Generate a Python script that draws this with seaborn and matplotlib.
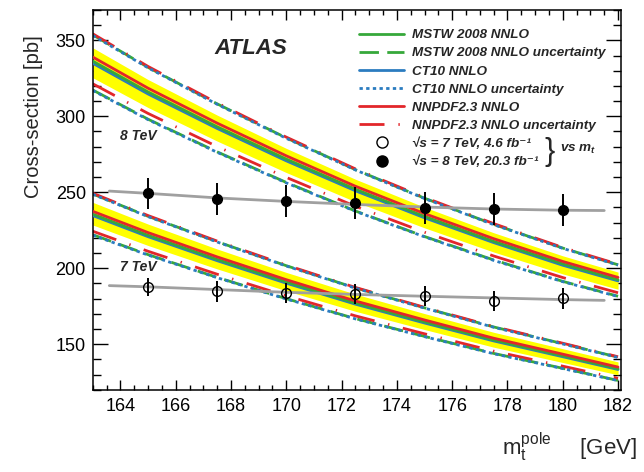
import matplotlib
matplotlib.use("Agg")
import matplotlib.pyplot as plt
import seaborn as sns
from matplotlib.lines import Line2D
from matplotlib.ticker import MultipleLocator

# ---------- DATA ----------
mass = [163, 165, 167.5, 170, 172.5, 175, 177.5, 180, 182]

# 8 TeV predictions [pb]
nnpdf_8 = [339, 318.5, 295.5, 274, 254, 236, 219.5, 204.5, 194]
mstw_8 = [336.3, 316.0, 293.1, 271.8, 252.0, 234.1, 217.7, 202.9, 192.4]
ct10_8 = [334.9, 314.7, 292.0, 270.7, 251.0, 233.2, 216.9, 202.0, 191.7]
nnpdf_8_up = [354.3, 332.8, 308.8, 286.3, 265.4, 246.6, 229.4, 213.7, 202.7]
nnpdf_8_dn = [321.4, 301.9, 280.1, 259.8, 240.8, 223.7, 208.1, 193.9, 183.9]
mstw_8_up = [353.6, 332.2, 308.2, 285.8, 264.9, 246.1, 228.9, 213.3, 202.3]
mstw_8_dn = [317.3, 298.1, 276.6, 256.5, 237.7, 220.9, 205.5, 191.4, 181.6]
ct10_8_up = [353.2, 331.9, 307.9, 285.5, 264.7, 245.9, 228.7, 213.1, 202.1]
ct10_8_dn = [317.0, 297.8, 276.3, 256.2, 237.5, 220.7, 205.2, 191.2, 181.4]
band_8_hi = [345.1, 324.2, 300.8, 278.9, 258.6, 240.2, 223.4, 208.2, 197.5]
band_8_lo = [325.4, 305.8, 283.7, 263.0, 243.8, 226.6, 210.7, 196.3, 186.2]

# 7 TeV predictions [pb]
nnpdf_7 = [237.5, 223.5, 207.5, 192.5, 178.5, 166.0, 154.0, 143.5, 135.0]
mstw_7 = [235.6, 221.7, 205.8, 191.0, 177.1, 164.7, 152.8, 142.4, 133.9]
ct10_7 = [234.7, 220.8, 205.0, 190.2, 176.4, 164.0, 152.2, 141.8, 133.4]
nnpdf_7_up = [249.4, 234.7, 217.9, 202.1, 187.4, 174.3, 161.7, 150.7, 141.8]
nnpdf_7_dn = [224.4, 211.2, 196.1, 181.9, 168.7, 156.9, 145.5, 135.6, 127.6]
mstw_7_up = [248.9, 234.2, 217.5, 201.7, 187.1, 174.0, 161.4, 150.4, 141.5]
mstw_7_dn = [222.1, 209.0, 194.0, 180.0, 166.9, 155.2, 144.0, 134.2, 126.2]
ct10_7_up = [248.7, 234.0, 217.3, 201.5, 186.9, 173.8, 161.2, 150.2, 141.3]
ct10_7_dn = [221.8, 208.7, 193.8, 179.8, 166.7, 155.0, 143.8, 134.0, 126.1]
band_7_hi = [243.4, 229.1, 212.7, 197.3, 183.0, 170.2, 157.9, 147.1, 138.4]
band_7_lo = [228.5, 215.0, 199.6, 185.2, 171.7, 159.7, 148.1, 138.0, 129.9]

# measured cross-section vs assumed m_t
pts_mass = [165, 167.5, 170, 172.5, 175, 177.5, 180]
xsec_7 = [187.5, 184.9, 183.6, 183.2, 181.6, 178.7, 180.3]
err_7 = [6.0, 7.0, 6.5, 6.5, 6.5, 6.5, 6.8]
xsec_8 = [249.3, 245.6, 244.0, 242.8, 239.5, 239.0, 238.3]
err_8 = [10.3, 10.7, 10.5, 10.5, 10.5, 10.4, 10.4]

# fitted dependence (grey lines)
fit_mass = [163.6, 165, 167.5, 170, 172.5, 175, 177.5, 180, 181.5]
fit_7 = [188.6, 187.8, 186.0, 184.2, 182.8, 181.6, 180.5, 179.4, 178.9]
fit_8 = [250.8, 249.3, 246.3, 244.0, 242.0, 240.3, 239.0, 238.2, 238.0]

# ---------- STYLE ----------
sns.set_theme(style="ticks")
plt.rcParams['font.family'] = ['Liberation Sans', 'DejaVu Sans']
plt.rcParams['mathtext.fontset'] = 'custom'
plt.rcParams['mathtext.rm'] = 'Liberation Sans'
plt.rcParams['mathtext.it'] = 'Liberation Sans:italic'
plt.rcParams['mathtext.bf'] = 'Liberation Sans:bold:italic'

GREEN = '#36a83a'
BLUE = '#2b7cc0'
RED = '#e2262a'
GREY = '#a0a0a0'
LW = 2.0

ls_mstw = (0, (7, 3))
ls_ct10 = (0, (1.2, 1.2))
ls_nnpdf = (0, (9, 5, 0.5, 5))

fig = plt.figure(figsize=(6.44, 4.72), dpi=100)
ax = fig.add_axes([0.144, 0.174, 0.820, 0.805])


def curve(y, color, ls='-', x=mass, lw=LW, z=3):
    sns.lineplot(x=x, y=y, ax=ax, color=color, linestyle=ls, linewidth=lw,
                 zorder=z, sort=False, estimator=None)


# ---------- DRAW ----------
for lo, hi in [(band_8_lo, band_8_hi), (band_7_lo, band_7_hi)]:
    ax.fill_between(mass, lo, hi, color='#ffff00', lw=0, zorder=1)

for up, dn in [(mstw_8_up, mstw_8_dn), (mstw_7_up, mstw_7_dn)]:
    curve(up, GREEN, ls_mstw, z=2)
    curve(dn, GREEN, ls_mstw, z=2)
for up, dn in [(nnpdf_8_up, nnpdf_8_dn), (nnpdf_7_up, nnpdf_7_dn)]:
    curve(up, RED, ls_nnpdf, z=2)
    curve(dn, RED, ls_nnpdf, z=2)
for up, dn in [(ct10_8_up, ct10_8_dn), (ct10_7_up, ct10_7_dn)]:
    curve(up, BLUE, ls_ct10, z=2)
    curve(dn, BLUE, ls_ct10, z=2)

for c, col in [(ct10_8, BLUE), (mstw_8, GREEN), (nnpdf_8, RED),
               (ct10_7, BLUE), (mstw_7, GREEN), (nnpdf_7, RED)]:
    curve(c, col, z=3)

curve(fit_8, GREY, x=fit_mass, z=4)
curve(fit_7, GREY, x=fit_mass, z=4)

ax.errorbar(pts_mass, xsec_8, yerr=err_8, fmt='o', ms=7, mfc='black', mec='black',
            ecolor='black', elinewidth=1.4, capsize=0, zorder=5)
ax.errorbar(pts_mass, xsec_7, yerr=err_7, fmt='o', ms=7, mfc='none', mec='black',
            mew=1.0, ecolor='black', elinewidth=1.4, capsize=0, zorder=5)

# ---------- AXES ----------
ax.set_xlim(163, 182.1)
ax.set_ylim(120, 370)
ax.xaxis.set_major_locator(MultipleLocator(2))
ax.xaxis.set_minor_locator(MultipleLocator(0.5))
ax.yaxis.set_major_locator(MultipleLocator(50))
ax.yaxis.set_minor_locator(MultipleLocator(10))
ax.tick_params(axis='both', which='both', direction='in', top=True, right=True,
               colors='black', labelsize=13)
ax.tick_params(axis='x', which='major', length=7, width=1.0, pad=6)
ax.tick_params(axis='x', which='minor', length=3.5, width=1.0)
ax.tick_params(axis='y', which='major', length=11, width=1.0, pad=5)
ax.tick_params(axis='y', which='minor', length=5.5, width=1.0)
for s in ax.spines.values():
    s.set_linewidth(1.1)
    s.set_color('black')

ax.set_xlabel(r'm$_{\rm t}^{\rm pole}\quad\;\;$[GeV]', fontsize=16)
ax.xaxis.set_label_coords(1.03, -0.15)
ax.xaxis.label.set_ha('right')
ax.xaxis.label.set_va('center')
ax.set_ylabel('Cross-section [pb]', fontsize=14.5)
ax.yaxis.set_label_coords(-0.113, 0.72)
ax.yaxis.label.set_va('center')
ax.yaxis.label.set_ha('center')

# ---------- TEXT ----------
ax.text(167.4, 344.5, 'ATLAS', fontsize=16, fontweight='bold', style='italic', va='center')
ax.text(164.0, 287, '8 TeV', fontsize=10, fontweight='bold', style='italic', va='center')
ax.text(164.0, 201, '7 TeV', fontsize=10, fontweight='bold', style='italic', va='center')

handles = [
    Line2D([], [], color=GREEN, lw=LW),
    Line2D([], [], color=GREEN, lw=LW, ls=ls_mstw),
    Line2D([], [], color=BLUE, lw=LW),
    Line2D([], [], color=BLUE, lw=LW, ls=ls_ct10),
    Line2D([], [], color=RED, lw=LW),
    Line2D([], [], color=RED, lw=LW, ls=ls_nnpdf),
    Line2D([], [], ls='none', marker='o', ms=8, mfc='white', mec='black', mew=1.0),
    Line2D([], [], ls='none', marker='o', ms=8, mfc='black', mec='black'),
]
labels = [
    'MSTW 2008 NNLO',
    'MSTW 2008 NNLO uncertainty',
    'CT10 NNLO',
    'CT10 NNLO uncertainty',
    'NNPDF2.3 NNLO',
    'NNPDF2.3 NNLO uncertainty',
    '√s = 7 TeV, 4.6 fb⁻¹',
    '√s = 8 TeV, 20.3 fb⁻¹',
]
ax.legend(handles, labels, loc='upper left', bbox_to_anchor=(0.505, 0.95),
          frameon=False, borderpad=0, borderaxespad=0, handlelength=3.3,
          handletextpad=0.6, labelspacing=0.42,
          prop=dict(family=['Liberation Sans', 'DejaVu Sans'], weight='bold',
                    style='italic', size=9.7))
ax.text(0.855, 0.625, '}', transform=ax.transAxes, fontsize=22, va='center', ha='left')
ax.text(0.885, 0.633, r'vs m$_{\mathbf{t}}$', transform=ax.transAxes, fontsize=9.7,
        fontweight='bold', style='italic', va='center', ha='left')

fig.savefig('out.png', dpi=100)
